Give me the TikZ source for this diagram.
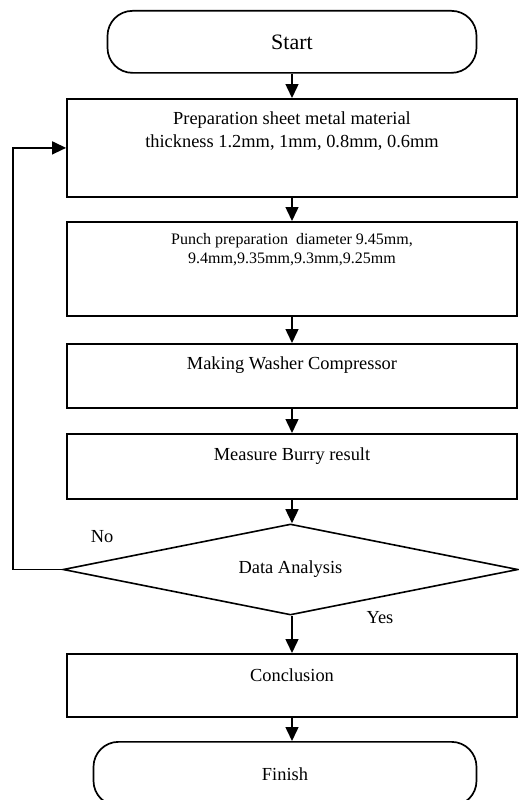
\documentclass[tikz,border=0pt]{standalone}
\usepackage{fontspec}
\setmainfont{Liberation Serif}
\usetikzlibrary{shapes.geometric,arrows.meta}
\begin{document}
\begin{tikzpicture}[x=1pt,y=-1pt,
  box/.style={draw,line width=1.8pt,minimum width=450pt,inner sep=0pt,anchor=north},
  term/.style={draw,line width=1.7pt,rounded corners=25pt,inner sep=0pt,anchor=north,
    font=\fontsize{18.4}{23}\selectfont},
  txt/.style={font=\fontsize{18.4}{23}\selectfont,align=center,inner sep=0pt},
  small/.style={font=\fontsize{16}{19}\selectfont,align=center,inner sep=0pt},
  arr/.style={line width=1.5pt,-{Triangle[length=14pt,width=13pt]}}]
\useasboundingbox (0,0) rectangle (519,800);

\node[term,minimum width=369pt,minimum height=62pt,font=\fontsize{22}{26}\selectfont] (start) at (292,10) {Start};

\node[box,minimum height=98pt] (b1) at (292,98) {};
\node[txt] (b1t) at (292,131) {Preparation sheet metal material\\thickness 1.2mm, 1mm, 0.8mm, 0.6mm};

\node[box,minimum height=94pt] (b2) at (292,221) {};
\node[small] (b2t) at (292,250) {Punch preparation\ \ diameter 9.45mm,\\9.4mm,9.35mm,9.3mm,9.25mm};

\node[box,minimum height=64pt] (b3) at (292,343) {};
\node[txt] (b3t) at (292,365) {Making Washer Compressor};

\node[box,minimum height=65pt] (b4) at (292,433) {};
\node[txt] (b4t) at (292,456) {Measure Burry result};

\node[draw,diamond,line width=1.6pt,minimum width=455pt,minimum height=91pt,inner sep=0pt,
  aspect=5,font=\fontsize{18.4}{23}\selectfont] (dia) at (290.5,569.5) {Data Analysis};

\node[txt] (no) at (102,537) {No};
\node[txt] (yes) at (380,618) {Yes};

\node[box,minimum height=63pt] (b5) at (292,653) {};
\node[txt] (b5t) at (292,675) {Conclusion};

\node[term,minimum width=383pt,minimum height=64pt] (fin) at (285,741) {Finish};

\draw[arr] (start.south) -- (b1.north);
\draw[arr] (b1.south) -- (b2.north);
\draw[arr] (b2.south) -- (b3.north);
\draw[arr] (b3.south) -- (b4.north);
\draw[arr] (b4.south) -- (b4.south |- dia.north);
\draw[arr] (dia.south -| b5.north) -- (b5.north);
\draw[arr] (b5.south) -- (b5.south |- fin.north);
\draw[arr] (dia.west) -- ++(-49,0) |- (b1.west);
\end{tikzpicture}
\end{document}
